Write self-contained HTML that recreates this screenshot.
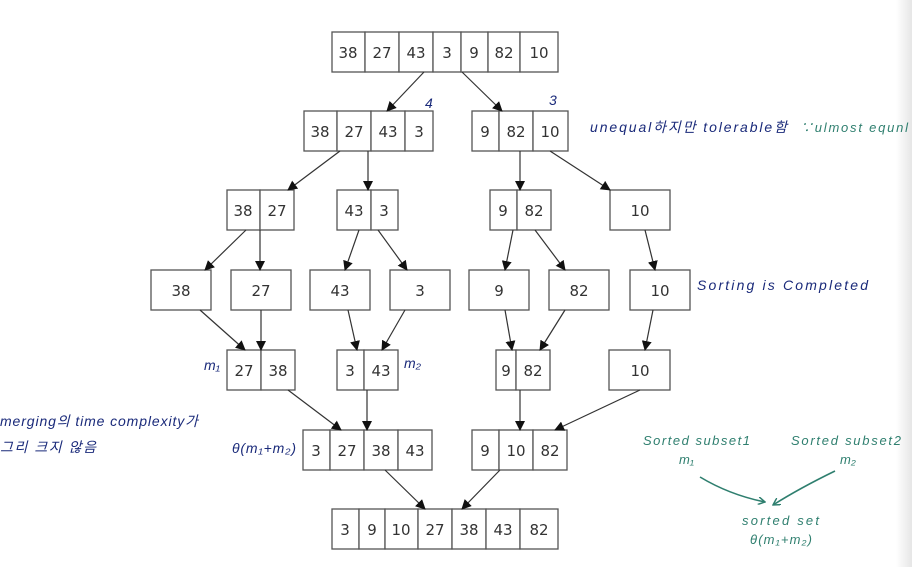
<!DOCTYPE html>
<html><head><meta charset="utf-8"><style>
html,body{margin:0;padding:0;background:#fff;}
svg{display:block;}
.c{fill:#fff;stroke:#555;stroke-width:1.3}
.t{font-family:"DejaVu Sans","Liberation Sans",sans-serif;font-size:15px;fill:#333;text-anchor:middle}
.h{font-family:"Liberation Sans","Noto Sans CJK KR",sans-serif;font-style:italic;fill:#1a2a7a;font-size:14px}
.g{font-family:"Liberation Sans","Noto Sans CJK KR",sans-serif;font-style:italic;fill:#2f7f6f;font-size:13px}
.a{stroke:#333;stroke-width:1.2;fill:none;marker-end:url(#ar)}
</style></head><body>
<svg width="912" height="567" viewBox="0 0 912 567" xmlns="http://www.w3.org/2000/svg">
<defs>
<marker id="ar" markerWidth="10" markerHeight="10" refX="9" refY="5" orient="auto" markerUnits="userSpaceOnUse"><path d="M0,0 L10,5 L0,10 z" fill="#111"/></marker>
<marker id="ag" markerWidth="8" markerHeight="8" refX="7" refY="4" orient="auto" markerUnits="userSpaceOnUse"><path d="M0,0 L7,4 L0,8" fill="none" stroke="#2f7f6f" stroke-width="1.5"/></marker>
<linearGradient id="edge" x1="0" x2="1"><stop offset="0" stop-color="#fff"/><stop offset="1" stop-color="#e6e6e6"/></linearGradient>
</defs>
<rect x="896" y="0" width="16" height="567" fill="url(#edge)"/>
<g>
<rect class="c" x="332" y="32" width="33" height="40"/><rect class="c" x="365" y="32" width="34" height="40"/><rect class="c" x="399" y="32" width="34" height="40"/><rect class="c" x="433" y="32" width="28" height="40"/><rect class="c" x="461" y="32" width="27" height="40"/><rect class="c" x="488" y="32" width="32" height="40"/><rect class="c" x="520" y="32" width="38" height="40"/>
<text class="t" x="348" y="58">38</text><text class="t" x="382" y="58">27</text><text class="t" x="416" y="58">43</text><text class="t" x="447" y="58">3</text><text class="t" x="474" y="58">9</text><text class="t" x="504" y="58">82</text><text class="t" x="539" y="58">10</text>
<rect class="c" x="304" y="111" width="33" height="40"/><rect class="c" x="337" y="111" width="34" height="40"/><rect class="c" x="371" y="111" width="34" height="40"/><rect class="c" x="405" y="111" width="28" height="40"/>
<text class="t" x="320" y="137">38</text><text class="t" x="354" y="137">27</text><text class="t" x="388" y="137">43</text><text class="t" x="419" y="137">3</text>
<rect class="c" x="472" y="111" width="27" height="40"/><rect class="c" x="499" y="111" width="34" height="40"/><rect class="c" x="533" y="111" width="35" height="40"/>
<text class="t" x="485" y="137">9</text><text class="t" x="516" y="137">82</text><text class="t" x="550" y="137">10</text>
<rect class="c" x="227" y="190" width="33" height="40"/><rect class="c" x="260" y="190" width="34" height="40"/>
<text class="t" x="243" y="216">38</text><text class="t" x="277" y="216">27</text>
<rect class="c" x="337" y="190" width="34" height="40"/><rect class="c" x="371" y="190" width="27" height="40"/>
<text class="t" x="354" y="216">43</text><text class="t" x="384" y="216">3</text>
<rect class="c" x="490" y="190" width="27" height="40"/><rect class="c" x="517" y="190" width="34" height="40"/>
<text class="t" x="503" y="216">9</text><text class="t" x="534" y="216">82</text>
<rect class="c" x="610" y="190" width="60" height="40"/><text class="t" x="640" y="216">10</text>
<rect class="c" x="151" y="270" width="60" height="40"/><text class="t" x="181" y="296">38</text>
<rect class="c" x="231" y="270" width="60" height="40"/><text class="t" x="261" y="296">27</text>
<rect class="c" x="310" y="270" width="60" height="40"/><text class="t" x="340" y="296">43</text>
<rect class="c" x="390" y="270" width="60" height="40"/><text class="t" x="420" y="296">3</text>
<rect class="c" x="469" y="270" width="60" height="40"/><text class="t" x="499" y="296">9</text>
<rect class="c" x="549" y="270" width="60" height="40"/><text class="t" x="579" y="296">82</text>
<rect class="c" x="630" y="270" width="60" height="40"/><text class="t" x="660" y="296">10</text>
<rect class="c" x="227" y="350" width="34" height="40"/><rect class="c" x="261" y="350" width="34" height="40"/>
<text class="t" x="244" y="376">27</text><text class="t" x="278" y="376">38</text>
<rect class="c" x="337" y="350" width="27" height="40"/><rect class="c" x="364" y="350" width="34" height="40"/>
<text class="t" x="350" y="376">3</text><text class="t" x="381" y="376">43</text>
<rect class="c" x="496" y="350" width="20" height="40"/><rect class="c" x="516" y="350" width="34" height="40"/>
<text class="t" x="506" y="376">9</text><text class="t" x="533" y="376">82</text>
<rect class="c" x="609" y="350" width="61" height="40"/><text class="t" x="640" y="376">10</text>
<rect class="c" x="303" y="430" width="27" height="40"/><rect class="c" x="330" y="430" width="34" height="40"/><rect class="c" x="364" y="430" width="34" height="40"/><rect class="c" x="398" y="430" width="34" height="40"/>
<text class="t" x="316" y="456">3</text><text class="t" x="347" y="456">27</text><text class="t" x="381" y="456">38</text><text class="t" x="415" y="456">43</text>
<rect class="c" x="472" y="430" width="27" height="40"/><rect class="c" x="499" y="430" width="34" height="40"/><rect class="c" x="533" y="430" width="34" height="40"/>
<text class="t" x="485" y="456">9</text><text class="t" x="516" y="456">10</text><text class="t" x="550" y="456">82</text>
<rect class="c" x="332" y="509" width="27" height="40"/><rect class="c" x="359" y="509" width="26" height="40"/><rect class="c" x="385" y="509" width="33" height="40"/><rect class="c" x="418" y="509" width="34" height="40"/><rect class="c" x="452" y="509" width="34" height="40"/><rect class="c" x="486" y="509" width="34" height="40"/><rect class="c" x="520" y="509" width="38" height="40"/>
<text class="t" x="345" y="535">3</text><text class="t" x="372" y="535">9</text><text class="t" x="401" y="535">10</text><text class="t" x="435" y="535">27</text><text class="t" x="469" y="535">38</text><text class="t" x="503" y="535">43</text><text class="t" x="539" y="535">82</text>
</g>
<g>
<line class="a" x1="424" y1="72" x2="387" y2="111"/><line class="a" x1="462" y1="72" x2="502" y2="111"/>
<line class="a" x1="340" y1="151" x2="288" y2="190"/><line class="a" x1="368" y1="151" x2="368" y2="190"/>
<line class="a" x1="520" y1="151" x2="520" y2="190"/><line class="a" x1="550" y1="151" x2="610" y2="190"/>
<line class="a" x1="246" y1="230" x2="205" y2="270"/><line class="a" x1="260" y1="230" x2="260" y2="270"/>
<line class="a" x1="359" y1="230" x2="345" y2="270"/><line class="a" x1="378" y1="230" x2="407" y2="270"/>
<line class="a" x1="513" y1="230" x2="505" y2="270"/><line class="a" x1="535" y1="230" x2="565" y2="270"/>
<line class="a" x1="645" y1="230" x2="655" y2="270"/>
<line class="a" x1="200" y1="310" x2="245" y2="350"/><line class="a" x1="261" y1="310" x2="261" y2="350"/>
<line class="a" x1="348" y1="310" x2="357" y2="350"/><line class="a" x1="405" y1="310" x2="382" y2="350"/>
<line class="a" x1="505" y1="310" x2="512" y2="350"/><line class="a" x1="565" y1="310" x2="540" y2="350"/>
<line class="a" x1="653" y1="310" x2="645" y2="350"/>
<line class="a" x1="288" y1="390" x2="341" y2="430"/><line class="a" x1="367" y1="390" x2="367" y2="430"/>
<line class="a" x1="520" y1="390" x2="520" y2="430"/><line class="a" x1="640" y1="390" x2="555" y2="430"/>
<line class="a" x1="385" y1="470" x2="425" y2="509"/><line class="a" x1="500" y1="470" x2="462" y2="509"/>
</g>
<g>
<text class="h" x="425" y="108" font-size="12">4</text><text class="h" x="549" y="105" font-size="12">3</text>
<text class="h" x="590" y="132" font-size="16" textLength="197" lengthAdjust="spacing">unequal하지만 tolerable함</text>
<text class="g" x="800" y="132" font-size="16" textLength="108" lengthAdjust="spacing">∵ulmost equnl</text>
<text class="h" x="697" y="290" font-size="16" textLength="171" lengthAdjust="spacing">Sorting is Completed</text>
<text class="h" x="204" y="370" font-size="11">m₁</text><text class="h" x="404" y="368" font-size="11">m₂</text>
<text class="h" x="0" y="426" font-size="15" textLength="198" lengthAdjust="spacing">merging의 time complexity가</text>
<text class="h" x="0" y="452" font-size="14" textLength="96" lengthAdjust="spacing">그리 크지 않음</text>
<text class="h" x="232" y="453" font-size="14" textLength="64" lengthAdjust="spacing">θ(m₁+m₂)</text>
<text class="g" x="643" y="445" font-size="14" textLength="107" lengthAdjust="spacing">Sorted subset1</text>
<text class="g" x="791" y="445" font-size="14" textLength="110" lengthAdjust="spacing">Sorted subset2</text>
<text class="g" x="679" y="464">m₁</text><text class="g" x="840" y="464">m₂</text>
<path d="M700,477 Q730,495 765,502" stroke="#2f7f6f" stroke-width="1.6" fill="none" marker-end="url(#ag)"/>
<path d="M835,471 Q800,488 773,505" stroke="#2f7f6f" stroke-width="1.6" fill="none" marker-end="url(#ag)"/>
<text class="g" x="742" y="525" font-size="14" textLength="77" lengthAdjust="spacing">sorted set</text>
<text class="g" x="750" y="544" font-size="14" textLength="62" lengthAdjust="spacing">θ(m₁+m₂)</text>
</g>
</svg>
</body></html>
